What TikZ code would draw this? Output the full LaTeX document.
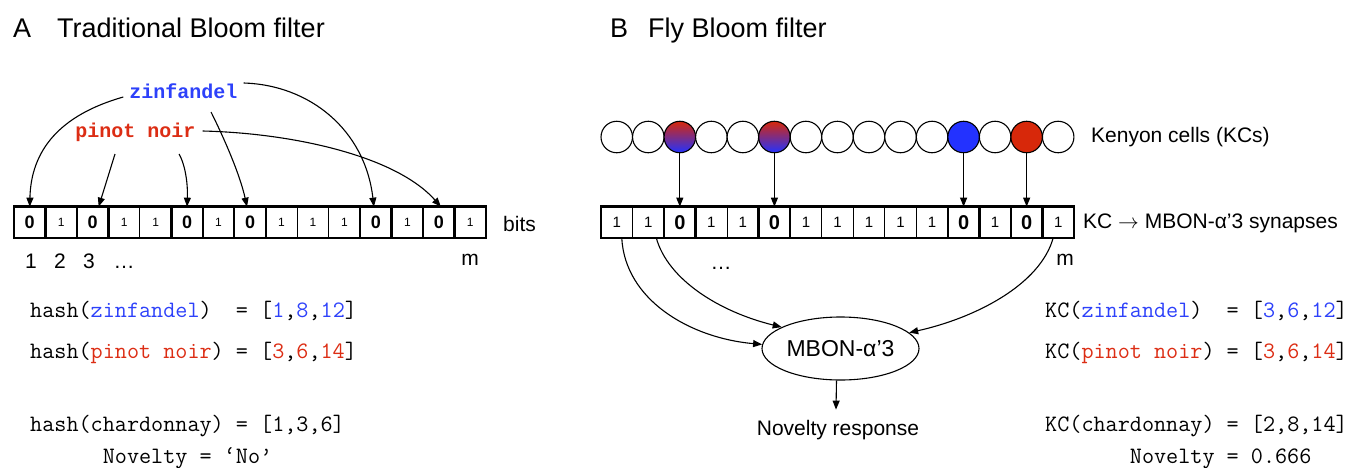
\documentclass[tikz,border=0pt]{standalone}
\usepackage{fontspec}
\setmainfont{Liberation Sans}
\newfontfamily\courfont{Liberation Mono}
\usetikzlibrary{arrows.meta,shapes.geometric,calc}
\definecolor{zb}{RGB}{45,65,250}
\definecolor{pr}{RGB}{220,45,20}
\definecolor{cb}{RGB}{35,50,255}
\definecolor{cr}{RGB}{215,40,10}
\tikzset{
  cellbase/.style={draw, minimum height=31.3pt, inner sep=0pt, outer sep=0pt},
  cA0/.style={cellbase, minimum width=31.47pt, line width=2.4pt, font=\fontsize{18}{18}\selectfont\bfseries},
  cA1/.style={cellbase, minimum width=31.47pt, line width=1.1pt, font=\fontsize{12}{12}\selectfont},
  cB0/.style={cellbase, minimum width=31.53pt, line width=2.4pt, font=\fontsize{20}{20}\selectfont\bfseries},
  cB1/.style={cellbase, minimum width=31.53pt, line width=1.1pt, font=\fontsize{15}{15}\selectfont},
  kc/.style={circle, draw, line width=1.1pt, minimum size=31.5pt, inner sep=0pt},
  kcw/.style={kc, fill=white},
  kcg/.style={kc, top color=cr, bottom color=cb},
  kcb/.style={kc, fill=cb},
  kcr/.style={kc, fill=cr},
  arr/.style={-{Triangle[length=9pt,width=7pt]}, line width=1.1pt},
  title/.style={anchor=base west, inner sep=0pt, font=\fontsize{27}{27}\selectfont},
  lab/.style={inner sep=0pt, font=\fontsize{21}{21}\selectfont},
  wine/.style={inner sep=0pt, font=\courfont\bfseries\fontsize{20}{20}\selectfont},
  tline/.style={anchor=base west, inner sep=0pt, font=\ttfamily\fontsize{23.5}{23.5}\selectfont},
}
\begin{document}
\begin{tikzpicture}[x=1pt,y=-1pt]
\path[use as bounding box] (0,0) rectangle (1350,467);

% ---------- titles
\node[title] (tA) at (13,37) {A};
\node[title] (tAt) at (57,37) {Traditional Bloom filter};
\node[title] (tB) at (610,37) {B};
\node[title] (tBt) at (648,37) {Fly Bloom filter};

% ---------- panel A bit array
\foreach \v [count=\i] in {0,1,0,1,1,0,1,0,1,1,1,0,1,0,1} {
  \node[cA\v] (a\i) at ({14+31.47*(\i-0.5)},222.3) {\v};
}
\draw[line width=2.4pt] (a1.north west) rectangle (a15.south east);
\node[lab, anchor=base west] (bits) at (503,231.5) {bits};
\node[lab, anchor=base] (n1) at (31,268) {1};
\node[lab, anchor=base] (n2) at (60,268) {2};
\node[lab, anchor=base] (n3) at (89,268) {3};
\node[lab, anchor=base] (ndots) at (124,268) {…};
\node[lab, anchor=base] (nm) at (470,265) {m};

% ---------- words and hash arrows
\node[wine, text=zb] (zin) at (183.5,91) {zinfandel};
\node[wine, text=pr] (pn) at (135.5,132) {pinot noir};
\draw[arr] ([shift={(-6,6)}]zin.west) .. controls (60,115) and (31,150) .. (a1.north);
\draw[arr] ([shift={(-20.5,22)}]pn.center) -- ([xshift=6pt]a3.north);
\draw[arr] ([shift={(43.5,22)}]pn.center) .. controls (184,162) and (188,180) .. (a6.north);
\draw[arr] ([shift={(27.5,21)}]zin.center) .. controls (225,140) and (240,175) .. ([xshift=-3pt]a8.north);
\draw[arr] ([shift={(6,-8)}]zin.east) .. controls (310,85) and (365,130) .. ([xshift=-2pt]a12.north);
\draw[arr] ([shift={(7,-1)}]pn.east) .. controls (290,133) and (395,155) .. ([xshift=2pt]a14.north);

% ---------- hash lines
\node[tline] (h1) at (30,317) {hash(\textcolor{zb}{zinfandel})\ \ = [\textcolor{zb}{1},\textcolor{zb}{8},\textcolor{zb}{12}]};
\node[tline] (h2) at (30,358) {hash(\textcolor{pr}{pinot noir}) = [\textcolor{pr}{3},\textcolor{pr}{6},\textcolor{pr}{14}]};
\node[tline] (h3) at (30,431.5) {hash(chardonnay) = [1,3,6]};
\node[tline] (h4) at (30,463) {\phantom{hash(c}Novelty = ‘No’};

% ---------- panel B Kenyon cells
\foreach \t [count=\i] in {w,w,g,w,w,g,w,w,w,w,w,b,w,r,w} {
  \node[kc\t] (k\i) at ({601+31.53*(\i-0.5)},137) {};
}
\node[lab, anchor=west] (kclab) at (1091,137) {Kenyon cells (KCs)};

% ---------- panel B synapse array
\foreach \v [count=\i] in {1,1,0,1,1,0,1,1,1,1,1,0,1,0,1} {
  \node[cB\v] (b\i) at ({601+31.53*(\i-0.5)},222.3) {\v};
}
\draw[line width=2.4pt] (b1.north west) rectangle (b15.south east);
\node[lab, anchor=west] (synlab) at (1083,223) {KC $\rightarrow$ MBON-α’3 synapses};
\node[lab, anchor=base] (bm) at (1065,265) {m};
\node[lab, anchor=base] (bdots) at (721,269) {…};

\foreach \i in {3,6,12,14} {
  \draw[arr] (k\i.south) -- (b\i.north);
}

% ---------- MBON
\node[draw, ellipse, line width=1.1pt, minimum width=157pt, minimum height=63pt, inner sep=0pt,
      font=\fontsize{23}{23}\selectfont] (mbon) at (840.5,348.5) {MBON-α’3};
\draw[arr] ([xshift=5pt]b1.south) .. controls (625,300) and (690,338) .. (mbon.177);
\draw[arr] ([xshift=8pt]b2.south) .. controls (668,280) and (720,312) .. (mbon.160);
\draw[arr] ([xshift=-5pt]b15.south) .. controls (1040,285) and (975,318) .. (mbon.13);
\node[lab, anchor=base] (nov) at (838,435) {Novelty response};
\draw[arr] ([xshift=-4pt]mbon.south) -- ([shift={(-2pt,10pt)}]nov.north);

% ---------- KC lines
\node[tline] (k1l) at (1045,317) {KC(\textcolor{zb}{zinfandel})\ \ = [\textcolor{zb}{3},\textcolor{zb}{6},\textcolor{zb}{12}]};
\node[tline] (k2l) at (1045,358) {KC(\textcolor{pr}{pinot noir}) = [\textcolor{pr}{3},\textcolor{pr}{6},\textcolor{pr}{14}]};
\node[tline] (k3l) at (1045,431.5) {KC(chardonnay) = [2,8,14]};
\node[tline] (k4l) at (1045,463) {\phantom{KC(char}Novelty = 0.666};
\end{tikzpicture}
\end{document}
